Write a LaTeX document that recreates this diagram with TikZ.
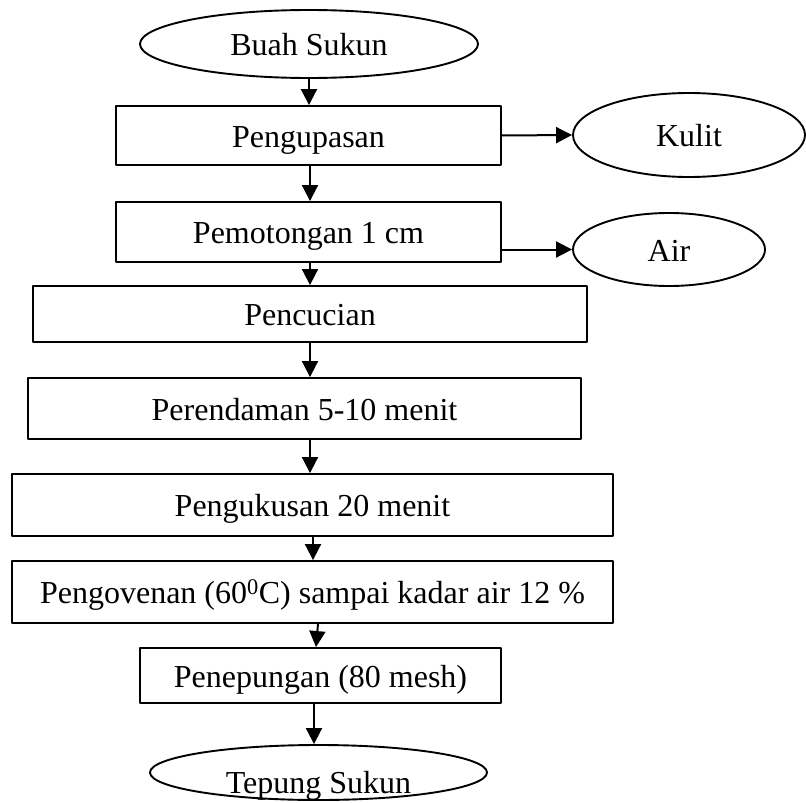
\documentclass[tikz,border=0pt]{standalone}
\usepackage{fontspec}
\setmainfont{Liberation Serif}
\usetikzlibrary{shapes.geometric,arrows.meta}
\begin{document}
\begin{tikzpicture}[x=1pt,y=-1pt,font=\fontsize{32}{38}\selectfont, line join=round,
		kotak/.style={draw,line width=1.9pt,rectangle,inner sep=0pt,text height=23pt,text depth=0pt},
		elips/.style={draw,line width=1.9pt,ellipse,inner sep=0pt,text height=23pt,text depth=0pt},
		panah/.style={-{Triangle[length=16pt,width=16pt]},line width=2pt}]
	\useasboundingbox (0,0) rectangle (806,803);
	% alur utama
	\node[elips,minimum width=338pt,minimum height=68pt] (buah) at (309,44) {Buah Sukun};
	\node[kotak,minimum width=385pt,minimum height=59pt] (kupas) at (308.5,135.5) {Pengupasan};
	\node[kotak,minimum width=385pt,minimum height=60pt] (potong) at (308.5,232) {Pemotongan 1 cm};
	\node[kotak,minimum width=554pt,minimum height=56pt] (cuci) at (310,314) {Pencucian};
	\node[kotak,minimum width=553pt,minimum height=61pt] (rendam) at (304.5,408.5) {Perendaman 5-10 menit};
	\node[kotak,minimum width=601pt,minimum height=62pt] (kukus) at (312.5,505) {Pengukusan 20 menit};
	\node[kotak,minimum width=601pt,minimum height=62pt] (oven) at (312.5,592) {Pengovenan (60\textsuperscript{0}C) sampai kadar air 12 \%};
	\node[kotak,minimum width=361pt,minimum height=55pt] (tepung) at (320.5,675.5) {Penepungan (80 mesh)};
	\node[elips,minimum width=337pt,minimum height=55pt] (hasil) at (318.5,772.5) {\raisebox{-9pt}[0pt][0pt]{Tepung Sukun}};
	% hasil samping
	\node[elips,minimum width=232pt,minimum height=84pt] (kulit) at (689,135) {Kulit};
	\node[elips,minimum width=192pt,minimum height=73pt] (air) at (669,249.5) {Air};
	% panah
	\draw[panah] (buah.south) -- (buah.south |- kupas.north);
	\draw[panah] (310,0 |- kupas.south) -- (310,0 |- potong.north);
	\draw[panah] (310,0 |- potong.south) -- (310,0 |- cuci.north);
	\draw[panah] (310,0 |- cuci.south) -- (310,0 |- rendam.north);
	\draw[panah] (310,0 |- rendam.south) -- (310,0 |- kukus.north);
	\draw[panah] (313,0 |- kukus.south) -- (313,0 |- oven.north);
	\draw[panah] (318,0 |- oven.south) -- (316,0 |- tepung.north);
	\draw[panah] (314,0 |- tepung.south) -- (314,0 |- hasil.north);
	\draw[panah] (kupas.east) -- (kulit.west);
	\draw[panah] (potong.east |- air.west) -- (air.west);
\end{tikzpicture}
\end{document}
